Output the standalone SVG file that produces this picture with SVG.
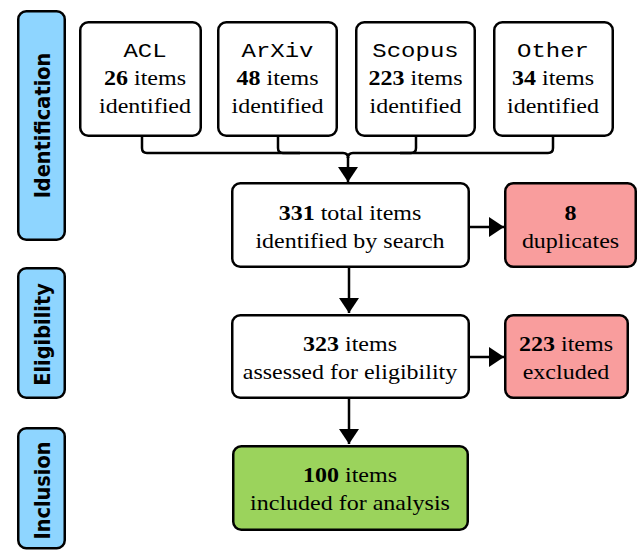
<svg xmlns="http://www.w3.org/2000/svg" width="640" height="550" viewBox="0 0 640 550">
<style>
.box{fill:#fff;stroke:#000;stroke-width:2.5}
.stage{fill:#8ED5FF;stroke:#000;stroke-width:2.5}
.pink{fill:#F99D9D;stroke:#000;stroke-width:2.5}
.green{fill:#9BD35C;stroke:#000;stroke-width:2.5}
.c{fill:none;stroke:#000;stroke-width:2.5}
</style>
<defs>
<marker id="ah" markerUnits="userSpaceOnUse" markerWidth="16" markerHeight="20" refX="15" refY="10" orient="auto">
<path d="M0,0 L15,10 L0,20 z" fill="#000"/>
</marker>
</defs>

<g font-family="DejaVu Sans, Verdana, sans-serif" font-weight="bold" font-size="22" text-anchor="middle" fill="#000">
<g id="stage-identification">
<rect class="stage" x="18.25" y="11.25" width="46.5" height="228.5" rx="8"/>
<text transform="translate(50,125.5) rotate(-90) scale(0.88,1)">Identification</text>
</g>
<g id="stage-eligibility">
<rect class="stage" x="18.25" y="268.25" width="46.5" height="129.5" rx="8"/>
<text transform="translate(50,334.5) rotate(-90) scale(0.88,1)">Eligibility</text>
</g>
<g id="stage-inclusion">
<rect class="stage" x="18.25" y="428.25" width="46.5" height="120" rx="8"/>
<text transform="translate(50,490.5) rotate(-90) scale(0.88,1)">Inclusion</text>
</g>
</g>

<g font-family="Liberation Serif, Times New Roman, serif" font-size="24" text-anchor="middle" fill="#000">
<g id="acl">
<rect class="box" x="80.25" y="22.25" width="120.5" height="113.5" rx="8"/>
<text font-family="Liberation Mono, Courier New, monospace" transform="translate(145,57) scale(1,0.88)">ACL</text>
<text transform="translate(145,85) scale(1,0.88)"><tspan font-weight="bold">26</tspan> items</text>
<text transform="translate(145,113) scale(1,0.88)">identified</text>
</g>
<g id="arxiv">
<rect class="box" x="218.25" y="22.25" width="118.5" height="113.5" rx="8"/>
<text font-family="Liberation Mono, Courier New, monospace" transform="translate(277.5,57) scale(1,0.88)">ArXiv</text>
<text transform="translate(277.5,85) scale(1,0.88)"><tspan font-weight="bold">48</tspan> items</text>
<text transform="translate(277.5,113) scale(1,0.88)">identified</text>
</g>
<g id="scopus">
<rect class="box" x="356.25" y="22.25" width="118.5" height="113.5" rx="8"/>
<text font-family="Liberation Mono, Courier New, monospace" transform="translate(415.5,57) scale(1,0.88)">Scopus</text>
<text transform="translate(415.5,85) scale(1,0.88)"><tspan font-weight="bold">223</tspan> items</text>
<text transform="translate(415.5,113) scale(1,0.88)">identified</text>
</g>
<g id="other">
<rect class="box" x="494.25" y="22.25" width="118.5" height="113.5" rx="8"/>
<text font-family="Liberation Mono, Courier New, monospace" transform="translate(553,57) scale(1,0.88)">Other</text>
<text transform="translate(553,85) scale(1,0.88)"><tspan font-weight="bold">34</tspan> items</text>
<text transform="translate(553,113) scale(1,0.88)">identified</text>
</g>

<g id="total">
<rect class="box" x="232.25" y="183.25" width="236.5" height="83.5" rx="8"/>
<text transform="translate(350,220) scale(1,0.88)"><tspan font-weight="bold">331</tspan> total items</text>
<text transform="translate(350,248) scale(1,0.88)">identified by search</text>
</g>
<g id="duplicates">
<rect class="pink" x="505.25" y="183.25" width="130.5" height="83.5" rx="8"/>
<text font-weight="bold" transform="translate(570.5,220) scale(1,0.88)">8</text>
<text transform="translate(570.5,248) scale(1,0.88)">duplicates</text>
</g>
<g id="assessed">
<rect class="box" x="232.25" y="315.25" width="236.5" height="82.5" rx="8"/>
<text transform="translate(350,351) scale(1,0.88)"><tspan font-weight="bold">323</tspan> items</text>
<text transform="translate(350,379) scale(1,0.88)">assessed for eligibility</text>
</g>
<g id="excluded">
<rect class="pink" x="505.25" y="315.25" width="122.5" height="82.5" rx="8"/>
<text transform="translate(566,351) scale(1,0.88)"><tspan font-weight="bold">223</tspan> items</text>
<text transform="translate(566,379) scale(1,0.88)">excluded</text>
</g>
<g id="included">
<rect class="green" x="233.25" y="446.25" width="234.5" height="83.5" rx="8"/>
<text transform="translate(350,482) scale(1,0.88)"><tspan font-weight="bold">100</tspan> items</text>
<text transform="translate(350,510) scale(1,0.88)">included for analysis</text>
</g>
</g>

<g id="connectors">
<path class="c" d="M142,137 V148 Q142,153 147,153 H343 Q348,153 348,158"/>
<path class="c" d="M278,137 V148 Q278,153 283,153 H300"/>
<path class="c" d="M416,137 V148 Q416,153 411,153 H353 Q348,153 348,158"/>
<path class="c" d="M553,137 V148 Q553,153 548,153 H400"/>
<path class="c" d="M348,157 V182" marker-end="url(#ah)"/>
<path class="c" d="M349,268 V313" marker-end="url(#ah)"/>
<path class="c" d="M349,399 V444" marker-end="url(#ah)"/>
<path class="c" d="M469,227 H504" marker-end="url(#ah)"/>
<path class="c" d="M469,357 H504" marker-end="url(#ah)"/>
</g>
</svg>
